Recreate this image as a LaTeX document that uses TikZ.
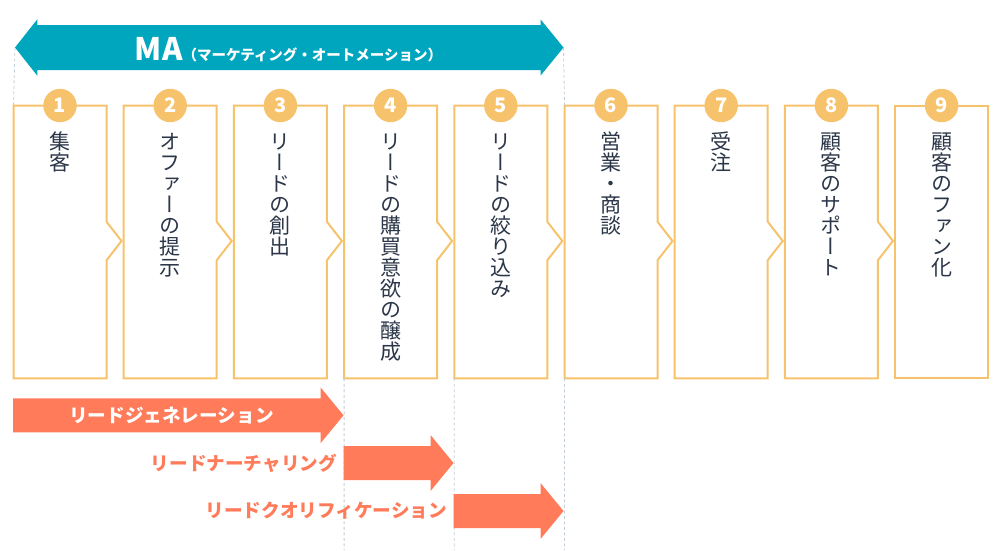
\documentclass[tikz,border=0pt]{standalone}
\usepackage{fontspec}
\usetikzlibrary{calc}
\setmainfont{Noto Sans CJK JP}
\newfontfamily\jpv[RawFeature=+vert]{Noto Sans CJK JP}
\definecolor{mateal}{HTML}{00A5BE}
\definecolor{boxyel}{HTML}{F6C36C}
\definecolor{coral}{HTML}{FF7B5A}
\definecolor{dashc}{HTML}{C2CCD8}
\definecolor{txtc}{HTML}{2B3648}
\newcommand\vfont{\jpv\fontsize{21}{21}\selectfont\lineskiplimit=-100pt\relax\lineskip=0pt\relax}
\tikzset{
  boxline/.style={draw=boxyel, line width=2pt, line join=miter, fill=white},
  numc/.style={circle, fill=boxyel, minimum size=33.4pt, inner sep=0pt, text=white,
    font=\fontsize{20}{20}\selectfont\bfseries},
  vtxt/.style={anchor=north, inner sep=0pt, align=center, text=txtc, font=\vfont},
  dashline/.style={draw=dashc, line width=0.8pt, dash pattern=on 3pt off 2.5pt},
  arrlab/.style={inner sep=0pt, font=\fontsize{18.6}{18.6}\selectfont\bfseries},
}
\newcommand\fatarrow[4]{%
  \fill[coral] (#1,#3-17) -- (#2-23,#3-17) -- (#2-23,#3-28) -- (#2,#3)
    -- (#2-23,#3+28) -- (#2-23,#3+17) -- (#1,#3+17) -- cycle;
  \coordinate (#4) at (#2,#3);}
\newcommand\firststrut{\rule{0pt}{18.5pt}}
\begin{document}
\begin{tikzpicture}[x=1pt,y=-1pt]
\useasboundingbox (0,0) rectangle (1000,550);
% MA arrow
\coordinate (mal) at (15,47.5);
\coordinate (mar) at (563.5,47.5);
\fill[mateal] (mal) -- (37.3,19.3) -- (37.3,25) -- (540.5,25) -- (540.5,19.3) -- (mar)
  -- (540.5,75.7) -- (540.5,70) -- (37.3,70) -- (37.3,75.7) -- cycle;
\node[text=white, inner sep=0pt, anchor=base] (ma) at (288.5,60)
  {{\fontsize{31}{31}\selectfont\bfseries MA}{\fontsize{14.5}{14.5}\selectfont\bfseries （マーケティング・オートメーション）}};
% boxes
\foreach \i in {1,...,9}{
  \pgfmathsetmacro\L{13.5+110.2*(\i-1)}
  \coordinate (tl\i) at (\L,105.5);
  \coordinate (bl\i) at (\L,378.3);
  \ifnum\i<9
    \draw[boxline] (\L,105.5) -- (\L+93,105.5) -- (\L+93,221.7) -- (\L+108,241)
      -- (\L+93,260.3) -- (\L+93,378.3) -- (\L,378.3) -- cycle;
  \else
    \draw[boxline] (\L,105.5) rectangle (\L+93,378.3);
  \fi
  \node[numc] (n\i) at (\L+46.5,105.5) {\i};
}
% vertical texts
\node[vtxt] (t1) at ($(tl1)+(46.5,25)$) {\firststrut 集\\客};
\node[vtxt] (t2) at ($(tl2)+(46.5,25)$) {\firststrut オ\\フ\\ァ\\ー\\の\\提\\示};
\node[vtxt] (t3) at ($(tl3)+(46.5,25)$) {\firststrut リ\\ー\\ド\\の\\創\\出};
\node[vtxt] (t4) at ($(tl4)+(46.5,25)$) {\firststrut リ\\ー\\ド\\の\\購\\買\\意\\欲\\の\\醸\\成};
\node[vtxt] (t5) at ($(tl5)+(46.5,25)$) {\firststrut リ\\ー\\ド\\の\\絞\\り\\込\\み};
\node[vtxt] (t6) at ($(tl6)+(46.5,25)$) {\firststrut 営\\業\\・\\商\\談};
\node[vtxt] (t7) at ($(tl7)+(46.5,25)$) {\firststrut 受\\注};
\node[vtxt] (t8) at ($(tl8)+(46.5,25)$) {\firststrut 顧\\客\\の\\サ\\ポ\\ー\\ト};
\node[vtxt] (t9) at ($(tl9)+(46.5,25)$) {\firststrut 顧\\客\\の\\フ\\ァ\\ン\\化};
% dashed guides
\draw[dashline] (mal) -- (tl1);
\draw[dashline] (mar) -- (tl6);
\coordinate (e4) at (344.1,550);
\coordinate (e5) at (454.3,550);
\coordinate (e6) at (564.5,550);
\draw[dashline] (bl4) -- (e4);
\draw[dashline] (bl5) -- (e5);
\draw[dashline] (bl6) -- (e6);
% bottom arrows
\fatarrow{13}{343.5}{415.3}{a1}
\fatarrow{343.5}{453.5}{463}{a2}
\fatarrow{453.5}{563.5}{511}{a3}
\node[arrlab, text=white] (l1) at (171.5,415.3) {リードジェネレーション};
\node[arrlab, text=coral, anchor=east] (l2) at (337,463) {リードナーチャリング};
\node[arrlab, text=coral, anchor=east] (l3) at (447,511) {リードクオリフィケーション};
\end{tikzpicture}
\end{document}
